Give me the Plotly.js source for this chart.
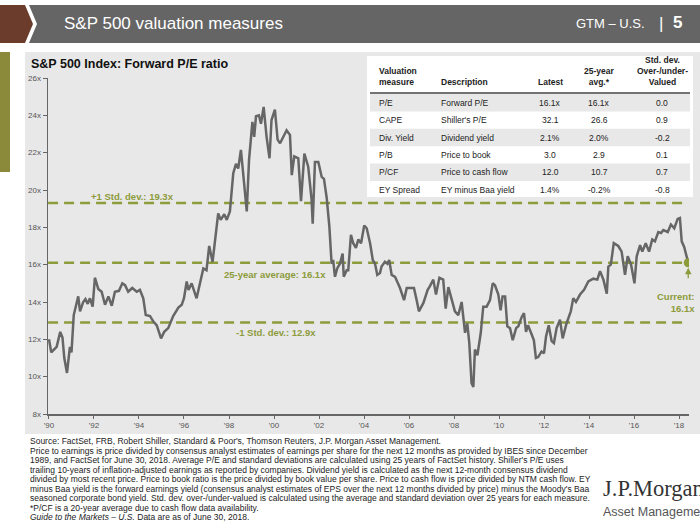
<!DOCTYPE html>
<html>
<head>
<meta charset="utf-8">
<script src="https://cdn.plot.ly/plotly-3.0.1.min.js"></script>
<style>html,body{margin:0;padding:0;background:#fff;}#chart{width:700px;height:525px;}</style>
</head>
<body>
<div id="chart"></div>
<script>
// ---------------- DATA ----------------
const years = [
1990.00,1990.10,1990.34,1990.50,1990.60,1990.68,1990.80,1990.93,1991.00,1991.10,1991.30,1991.38,1991.52,1991.62,1991.72,1991.82,1991.94,
1992.04,1992.19,1992.34,1992.49,1992.64,1992.79,1992.93,1993.11,1993.26,1993.38,1993.52,1993.70,1993.90,1994.04,1994.19,1994.30,1994.49,
1994.64,1994.79,1994.98,1995.12,1995.30,1995.52,1995.75,1995.90,1996.00,1996.12,1996.20,1996.34,1996.56,1996.71,1996.86,1997.00,1997.12,
1997.27,1997.52,1997.63,1997.79,1997.90,1998.04,1998.19,1998.31,1998.41,1998.53,1998.79,1998.89,1999.04,1999.12,1999.20,1999.33,1999.42,
1999.54,1999.67,1999.80,1999.89,2000.04,2000.16,2000.27,2000.37,2000.56,2000.71,2000.79,2000.90,2001.08,2001.20,2001.35,2001.52,2001.67,
2001.72,2001.82,2001.97,2002.12,2002.22,2002.34,2002.46,2002.56,2002.63,2002.71,2002.81,2002.93,2003.05,2003.10,2003.23,2003.30,2003.42,
2003.52,2003.64,2003.75,2003.87,2004.01,2004.12,2004.27,2004.39,2004.49,2004.59,2004.71,2004.78,2004.93,2005.04,2005.12,2005.23,2005.38,
2005.60,2005.78,2005.90,2006.04,2006.22,2006.34,2006.44,2006.64,2006.83,2006.93,2007.08,2007.20,2007.35,2007.52,2007.63,2007.75,2007.90,
2008.04,2008.19,2008.34,2008.49,2008.59,2008.68,2008.78,2008.86,2008.93,2009.04,2009.19,2009.30,2009.45,2009.60,2009.72,2009.82,2009.97,
2010.07,2010.16,2010.27,2010.37,2010.49,2010.61,2010.76,2010.86,2011.01,2011.11,2011.20,2011.29,2011.44,2011.55,2011.64,2011.74,2011.89,
2012.00,2012.09,2012.21,2012.34,2012.44,2012.56,2012.71,2012.83,2013.00,2013.19,2013.30,2013.42,2013.60,2013.78,2013.97,2014.19,2014.37,
2014.49,2014.64,2014.79,2014.86,2014.97,2015.10,2015.30,2015.45,2015.60,2015.72,2015.87,2016.02,2016.12,2016.27,2016.37,2016.52,2016.67,
2016.81,2016.93,2017.08,2017.20,2017.30,2017.50,2017.64,2017.79,2017.94,2018.04,2018.12,2018.23,2018.41];
const forwardPE = [
12.0,11.3,11.6,12.4,12.1,11.0,10.2,11.6,11.3,13.3,14.3,13.5,14.0,14.15,13.9,14.2,13.75,
15.3,14.7,14.55,13.85,14.3,13.8,14.55,14.6,15.0,14.9,14.55,14.75,14.55,14.65,14.2,13.3,13.25,
12.95,12.75,12.05,12.4,12.6,13.25,13.7,13.85,14.2,15.1,14.65,15.0,14.2,15.0,15.8,15.7,17.0,
16.15,18.75,18.4,18.7,18.4,18.85,20.9,21.4,21.15,22.15,18.85,21.6,23.65,22.85,23.95,24.0,23.55,
24.45,22.85,21.7,23.75,24.3,22.7,22.5,22.75,23.2,22.95,20.8,21.8,21.7,19.4,21.95,21.25,19.5,
18.2,21.5,21.5,20.7,20.6,19.6,18.05,16.05,16.25,15.35,15.8,16.05,16.6,15.35,15.7,15.7,17.6,
17.15,16.9,17.35,17.15,18.1,17.95,17.15,16.25,16.05,15.45,15.55,15.9,16.15,16.05,16.25,15.45,15.35,
14.75,14.1,14.75,14.75,14.75,14.1,13.5,13.95,14.65,14.85,15.2,14.4,15.3,15.2,13.65,14.8,14.1,
13.5,13.3,14.0,12.35,12.85,11.8,9.65,9.45,11.45,11.15,12.35,13.75,13.75,14.1,15.0,14.9,14.4,
13.55,14.3,14.3,12.7,12.6,11.95,12.6,12.7,13.2,13.4,12.4,12.75,12.3,11.95,11.0,11.05,11.35,
11.25,12.15,12.75,11.9,11.8,12.6,13.05,12.05,12.85,13.5,14.2,14.0,14.4,14.65,15.1,15.25,15.2,
15.65,15.2,14.45,15.9,16.0,17.15,17.0,16.7,15.45,16.45,16.0,15.0,16.45,17.05,16.7,17.15,16.7,
17.35,17.25,17.75,17.7,17.85,17.75,18.15,17.95,18.45,18.5,17.25,16.95,16.1];

const avgPE = 16.1;
const plusOneSD = 19.3;
const minusOneSD = 12.9;
const currentPE = 16.1;
const currentDate = 2018.41;

const yTickVals = [8,10,12,14,16,18,20,22,24,26];
const yTickText = ['8x','10x','12x','14x','16x','18x','20x','22x','24x','26x'];
const xTickVals = [1990,1992,1994,1996,1998,2000,2002,2004,2006,2008,2010,2012,2014,2016,2018];
const xTickText = ["'90","'92","'94","'96","'98","'00","'02","'04","'06","'08","'10","'12","'14","'16","'18"];

const tableMeasures = ['P/E','CAPE','Div. Yield','P/B','P/CF','EY Spread'];
const tableDesc = ['Forward P/E',"Shiller's P/E",'Dividend yield','Price to book','Price to cash flow','EY minus Baa yield'];
const tableLatest = ['16.1x','32.1','2.1%','3.0','12.0','1.4%'];
const tableAvg = ['16.1x','26.6','2.0%','2.9','10.7','-0.2%'];
const tableStd = ['0.0','0.9','-0.2','0.1','0.7','-0.8'];

const footnotes = [
"Source: FactSet, FRB, Robert Shiller, Standard & Poor's, Thomson Reuters, J.P. Morgan Asset Management.",
"Price to earnings is price divided by consensus analyst estimates of earnings per share for the next 12 months as provided by IBES since December",
"1989, and FactSet for June 30, 2018. Average P/E and standard deviations are calculated using 25 years of FactSet history. Shiller's P/E uses",
"trailing 10-years of inflation-adjusted earnings as reported by companies. Dividend yield is calculated as the next 12-month consensus dividend",
"divided by most recent price. Price to book ratio is the price divided by book value per share. Price to cash flow is price divided by NTM cash flow. EY",
"minus Baa yield is the forward earnings yield (consensus analyst estimates of EPS over the next 12 months divided by price) minus the Moody's Baa",
"seasoned corporate bond yield. Std. dev. over-/under-valued is calculated using the average and standard deviation over 25 years for each measure.",
"*P/CF is a 20-year average due to cash flow data availability.",
"<i>Guide to the Markets – U.S.</i> Data are as of June 30, 2018."
];

// ---------------- LAYOUT HELPERS ----------------
const FONT = 'Liberation Sans, Arial, sans-serif';
const OLIVE = '#8d9b3b';
const ML = 48, MR = 11, MT = 78, MB = 111;
const PW = 700 - ML - MR, PH = 525 - MT - MB;
const fx = p => (p - ML) / PW;
const fy = p => (525 - MB - p) / PH;
function path(pts){ return 'M' + pts.map(p => fx(p[0]).toFixed(5) + ',' + fy(p[1]).toFixed(5)).join(' L') + ' Z'; }
function rect(x0,y0,x1,y1,color){ return {type:'rect',xref:'paper',yref:'paper',x0:fx(x0),x1:fx(x1),y0:fy(y1),y1:fy(y0),fillcolor:color,line:{width:0},layer:'below'}; }
function txt(x,y,text,size,color,xanchor,extra){
  return Object.assign({xref:'paper',yref:'paper',x:fx(x),y:fy(y),text:text,showarrow:false,
    xanchor:xanchor||'left',yanchor:'middle',font:{family:FONT,size:size,color:color}}, extra||{});
}

const shapes = [];
const annotations = [];

// header
shapes.push({type:'path',xref:'paper',yref:'paper',path:path([[0,5],[25,5],[33,24],[25,43],[0,43]]),fillcolor:'#6b3c2c',line:{width:0},layer:'below'});
shapes.push({type:'path',xref:'paper',yref:'paper',path:path([[29,5],[700,5],[700,43],[29,43],[37,24]]),fillcolor:'#656565',line:{width:0},layer:'below'});
annotations.push(txt(62,24,'S&P 500 valuation measures',17,'#ffffff','left'));
annotations.push(txt(647,24,'GTM – U.S.',13,'#ffffff','right'));
annotations.push(txt(661,24,'|',17,'#ffffff','center'));
annotations.push(txt(677,23,'<b>5</b>',17,'#ffffff','center'));

// panel
shapes.push(rect(0,52,10,172,'#8a8a3a'));
shapes.push(rect(25,52,700,434,'#e8e8e8'));
annotations.push(txt(29,64,'<b>S&P 500 Index: Forward P/E ratio</b>',12.5,'#111111','left'));

// table
shapes.push(rect(367,56,693,197,'#ffffff'));
const rowY0 = 94, rowH = 17.4;
for (let i = 0; i < tableMeasures.length; i++) {
  if (i % 2 === 0) shapes.push(rect(370, rowY0 + i*rowH, 690, rowY0 + (i+1)*rowH, '#e8e8e8'));
  const cy = rowY0 + (i+0.5)*rowH;
  annotations.push(txt(377,cy,tableMeasures[i],8.5,'#222','left'));
  annotations.push(txt(439,cy,tableDesc[i],8.5,'#222','left'));
  annotations.push(txt(550,cy,tableLatest[i],8.5,'#222','center'));
  annotations.push(txt(599,cy,tableAvg[i],8.5,'#222','center'));
  annotations.push(txt(662,cy,tableStd[i],8.5,'#222','center'));
}
shapes.push({type:'line',xref:'paper',yref:'paper',x0:fx(370),x1:fx(690),y0:fy(93),y1:fy(93),line:{color:'#444',width:1.5}});
annotations.push(txt(377,89,'<b>Valuation<br>measure</b>',8.5,'#222','left',{yanchor:'bottom',align:'left'}));
annotations.push(txt(439,89,'<b>Description</b>',8.5,'#222','left',{yanchor:'bottom'}));
annotations.push(txt(550,89,'<b>Latest</b>',8.5,'#222','center',{yanchor:'bottom'}));
annotations.push(txt(599,89,'<b>25-year<br>avg.*</b>',8.5,'#222','center',{yanchor:'bottom',align:'center'}));
annotations.push(txt(662,89,'<b>Std. dev.<br>Over-/under-<br>Valued</b>',8.5,'#222','center',{yanchor:'bottom',align:'center'}));

// reference lines
[plusOneSD, avgPE, minusOneSD].forEach(v => {
  shapes.push({type:'line',xref:'x',yref:'y',x0:1989.96,x1:2018.40,y0:v,y1:v,line:{color:OLIVE,width:2.6,dash:'10px,6px'},layer:'below'});
});
annotations.push(txt(132,196,'<b>+1 Std. dev.: ' + plusOneSD.toFixed(1) + 'x</b>',9.5,OLIVE,'center'));
annotations.push(txt(275,274,'<b>25-year average: ' + avgPE.toFixed(1) + 'x</b>',9.5,OLIVE,'center'));
annotations.push(txt(276,332,'<b>-1 Std. dev.: ' + minusOneSD.toFixed(1) + 'x</b>',9.5,OLIVE,'center'));
annotations.push(txt(697,302,'<b>Current:<br>' + currentPE.toFixed(1) + 'x</b>',9.5,OLIVE,'right',{align:'right'}));
annotations.push({xref:'x',yref:'y',x:currentDate,y:currentPE,text:'',showarrow:true,ax:0,ay:17,
  arrowhead:2,arrowsize:1,arrowwidth:1.3,arrowcolor:OLIVE,standoff:5});

// footnotes
footnotes.forEach((line,i) => annotations.push(txt(28,441 + i*9.5,line,8.5,'#222','left')));
annotations.push(txt(601,488,'J.P.Morgan',22.5,'#333333','left',{font:{family:'Liberation Serif, Times New Roman, serif',size:22.5,color:'#333'}}));
annotations.push(txt(601,512,'Asset Management',12.5,'#555555','left'));

const traces = [
  {type:'scatter',mode:'lines',x:years,y:forwardPE,line:{color:'#666666',width:2.5},hoverinfo:'skip',showlegend:false},
  {type:'scatter',mode:'markers',x:[currentDate],y:[currentPE],marker:{color:OLIVE,size:9},hoverinfo:'skip',showlegend:false}
];

const layout = {
  width:700,height:525,
  margin:{l:ML,r:MR,t:MT,b:MB,pad:0},
  paper_bgcolor:'#ffffff',plot_bgcolor:'rgba(0,0,0,0)',
  showlegend:false,
  font:{family:FONT,color:'#555'},
  xaxis:{range:[1989.956,2018.444],tickvals:xTickVals,ticktext:xTickText,showgrid:false,zeroline:false,
    showline:true,linecolor:'#666',linewidth:1.5,ticks:'outside',ticklen:3,tickcolor:'#666',tickwidth:1,
    tickfont:{family:FONT,size:8,color:'#555'}},
  yaxis:{range:[8,26],tickvals:yTickVals,ticktext:yTickText,showgrid:false,zeroline:false,
    showline:true,linecolor:'#666',linewidth:1.5,ticks:'outside',ticklen:4,tickcolor:'#666',tickwidth:1,
    tickfont:{family:FONT,size:8,color:'#555'}},
  shapes:shapes,
  annotations:annotations
};

Plotly.newPlot('chart',traces,layout,{displayModeBar:false,staticPlot:true});
</script>
</body>
</html>
